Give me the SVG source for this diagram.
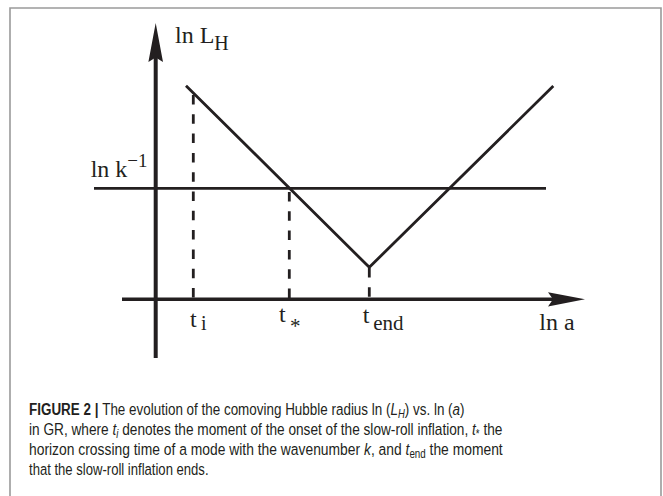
<svg xmlns="http://www.w3.org/2000/svg" width="663" height="496" viewBox="0 0 663 496">
<style>
.ln{stroke:#231f20;fill:none;stroke-linecap:butt}
.dash{stroke:#231f20;stroke-width:2.8;stroke-dasharray:9.5 9.8;fill:none}
.lab{font-family:"Liberation Serif","Times New Roman",serif;fill:#231f20}
.cap{font-family:"Liberation Sans",Arial,sans-serif;font-size:17px;fill:#231f20}
.sub{font-size:12px}
</style>
<rect width="663" height="496" fill="#fff"/>
<path d="M10,500 V8 H661 V500" fill="none" stroke="#9a9a9a" stroke-width="1.6"/>
<g id="axes">
<line class="ln" x1="155.7" y1="358" x2="155.7" y2="55" stroke-width="4"/>
<path d="M155.7,23 L163,62 L155.7,57.5 L148.4,62 Z" fill="#231f20"/>
<line class="ln" x1="122" y1="299.3" x2="556" y2="299.3" stroke-width="3.6"/>
<path d="M585,299.3 L548,292.2 L553,299.3 L548,306.4 Z" fill="#231f20"/>
</g>
<g id="horizon">
<line class="ln" x1="94" y1="188.3" x2="546" y2="188.3" stroke-width="2.8"/>
</g>
<g id="hubble-radius">
<polyline class="ln" points="186,85.7 369.3,267.3 553.3,86" stroke-width="2.8" stroke-linejoin="miter"/>
</g>
<g id="connectors">
<line class="dash" x1="193.3" y1="95" x2="193.3" y2="299"/>
<line class="dash" x1="289.3" y1="192" x2="289.3" y2="299"/>
<line class="dash" x1="369.3" y1="268" x2="369.3" y2="299" stroke-dasharray="10 11"/>
</g>
<g id="labels">
<text class="lab" x="175" y="43.3" font-size="24">ln L<tspan font-size="20" y="50">H</tspan></text>
<text class="lab" x="90.7" y="176.7" font-size="24">ln k<tspan font-size="19" y="166.7">−1</tspan></text>
<text class="lab" x="190" y="326.7" font-size="24">t<tspan x="201" y="330" font-size="20">i</tspan></text>
<text class="lab" x="279" y="321.7" font-size="24">t<tspan x="290" y="333" font-size="21">*</tspan></text>
<text class="lab" x="362.7" y="323.3" font-size="24">t<tspan x="373.3" y="329.5" font-size="21">end</tspan></text>
<text class="lab" x="539.3" y="330" font-size="24">ln a</text>
</g>
<g id="caption">
<text class="cap" transform="translate(29,415) scale(0.791,1)"><tspan font-weight="bold">FIGURE 2 | </tspan>The evolution of the comoving Hubble radius ln (<tspan font-style="italic">L</tspan><tspan class="sub" font-style="italic" dy="3">H</tspan><tspan dy="-3">) vs. ln (</tspan><tspan font-style="italic">a</tspan>)</text>
<text class="cap" transform="translate(29,435) scale(0.804,1)">in GR, where <tspan font-style="italic">t</tspan><tspan class="sub" font-style="italic" dy="3">i</tspan><tspan dy="-3"> denotes the moment of the onset of the slow-roll inflation, </tspan><tspan font-style="italic">t</tspan><tspan class="sub" dy="3">*</tspan><tspan dy="-3"> the</tspan></text>
<text class="cap" transform="translate(29,455) scale(0.8155,1)">horizon crossing time of a mode with the wavenumber <tspan font-style="italic">k</tspan>, and <tspan font-style="italic">t</tspan><tspan class="sub" dy="3">end</tspan><tspan dy="-3"> the moment</tspan></text>
<text class="cap" transform="translate(29,474.5) scale(0.77,1)">that the slow-roll inflation ends.</text>
</g>
</svg>
